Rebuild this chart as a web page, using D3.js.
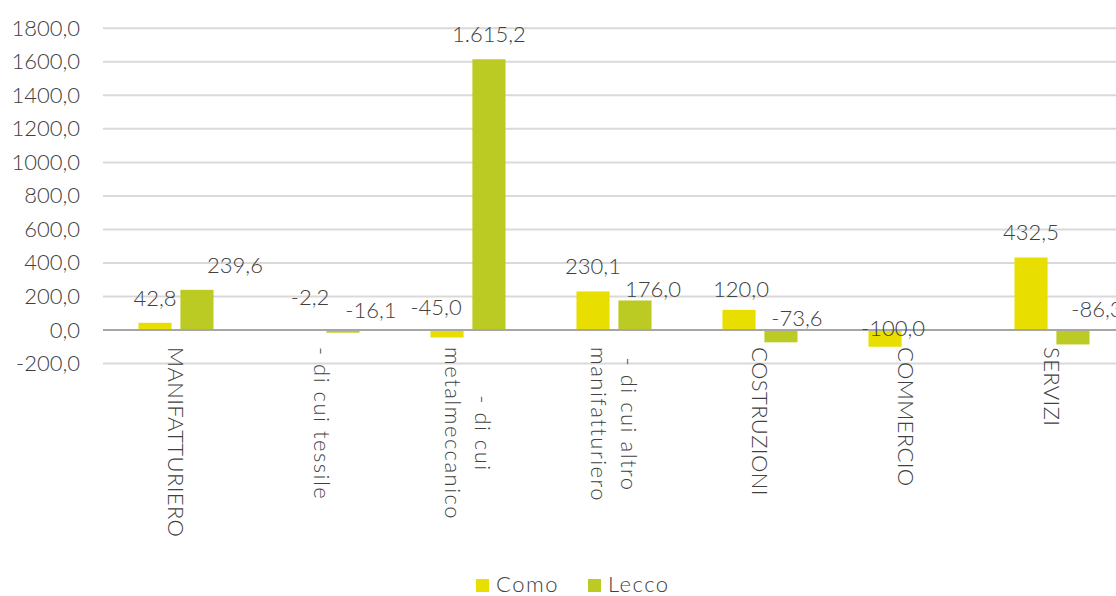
<!DOCTYPE html>
<html>
<head>
<meta charset="utf-8">
<script src="https://cdn.jsdelivr.net/npm/d3@7"></script>
<style>
  body { margin: 0; background: #fff; }
  svg text { font-family: Lato, "Open Sans", sans-serif; font-weight: 300; fill: #404040; }
</style>
</head>
<body>
<div id="chart"></div>
<script>
(function() {
    'use strict';

    // data
    var categories = [
        "MANIFATTURIERO",
        "- di cui tessile",
        "- di cui\nmetalmeccanico",
        "- di cui altro\nmanifatturiero",
        "COSTRUZIONI",
        "COMMERCIO",
        "SERVIZI"
    ];
    var seriesNames = ["Como", "Lecco"];
    var como = [42.8, -2.2, -45.0, 230.1, 120.0, -100.0, 432.5];
    var lecco = [239.6, -16.1, 1615.2, 176.0, -73.6, null, -86.3];
    var yTicks = [-200, 0, 200, 400, 600, 800, 1000, 1200, 1400, 1600, 1800];

    // manual label nudges (like dragged labels in the source), [dx, dy]
    var nudgeComo = [[0, 0], [9, -8], [-11, 2], [0, 0], [2, 4], [8, 23], [0, 0]];
    var nudgeLecco = [[38, 0], [28, 5], [0, 0], [18, 14], [16, 13], [0, 0], [24, 4]];

    var colors = { Como: "#e8df00", Lecco: "#bbcb23" };

    var width = 1116, height = 596;

    var locale = d3.formatLocale({
        decimal: ",", thousands: ".", grouping: [3], currency: ["€", ""], minus: "-"
    });
    var fmtTick = locale.format(".1f");
    var fmtLabel = locale.format(",.1f");

    // wide-ish text like the original font
    function spacing(s) {
        return s === s.toUpperCase() ? "0.4px" : "1.5px";
    }

    var svg = d3.select("#chart").append("svg")
        .attr("width", width)
        .attr("height", height);

    var x = d3.scaleBand()
        .domain(categories)
        .range([103, 1125])
        .paddingInner(0.486)
        .paddingOuter(0.243);

    var xInner = d3.scaleBand()
        .domain(seriesNames)
        .range([0, x.bandwidth()])
        .paddingInner(0.21);

    var y = d3.scaleLinear()
        .domain([-200, 1800])
        .range([363.5, 28.3]);

    // gridlines
    svg.append("g").selectAll("line")
        .data(yTicks.filter(function(t) { return t !== 0; }))
        .enter().append("line")
        .attr("x1", 103).attr("x2", width)
        .attr("y1", function(d) { return y(d); })
        .attr("y2", function(d) { return y(d); })
        .attr("stroke", "#d9d9d9")
        .attr("stroke-width", 2);

    // y axis labels
    var yAxis = d3.axisLeft(y).tickValues(yTicks).tickFormat(fmtTick).tickSize(0).tickPadding(0);
    var gy = svg.append("g").attr("transform", "translate(80,0)").call(yAxis);
    gy.select(".domain").remove();
    gy.selectAll("text")
        .style("font-family", "Lato, sans-serif")
        .style("font-weight", 300)
        .style("font-size", "22px")
        .attr("fill", "#595959");

    // bars
    var rows = seriesNames.map(function(name) {
        var vals = name === "Como" ? como : lecco;
        var nudges = name === "Como" ? nudgeComo : nudgeLecco;
        return categories.map(function(c, i) {
            return { cat: c, series: name, value: vals[i], nudge: nudges[i] };
        }).filter(function(d) { return d.value !== null; });
    });
    var all = rows[0].concat(rows[1]);

    svg.append("g").selectAll("rect")
        .data(all).enter().append("rect")
        .attr("x", function(d) { return x(d.cat) + xInner(d.series); })
        .attr("width", xInner.bandwidth())
        .attr("y", function(d) { return y(Math.max(0, d.value)); })
        .attr("height", function(d) { return Math.abs(y(d.value) - y(0)); })
        .attr("fill", function(d) { return colors[d.series]; });

    // zero line
    svg.append("line")
        .attr("x1", 103).attr("x2", width)
        .attr("y1", y(0)).attr("y2", y(0))
        .attr("stroke", "#a6a6a6")
        .attr("stroke-width", 2);

    // data labels
    svg.append("g").selectAll("text")
        .data(all).enter().append("text")
        .attr("x", function(d) { return x(d.cat) + xInner(d.series) + xInner.bandwidth() / 2 + d.nudge[0]; })
        .attr("y", function(d) { return y(Math.max(0, d.value)) - 17 + d.nudge[1]; })
        .attr("text-anchor", "middle")
        .style("font-size", "22px")
        .text(function(d) { return fmtLabel(d.value); });

    // category labels, rotated
    var lineGap = 30;
    var catG = svg.append("g").selectAll("g")
        .data(categories).enter().append("g")
        .attr("transform", function(d) {
            return "translate(" + (x(d) + x.bandwidth() / 2) + ",347) rotate(90)";
        });
    catG.each(function(d) {
        var g = d3.select(this);
        var lines = d.split("\n");
        var texts = lines.map(function(l, i) {
            return g.append("text")
                .attr("y", (i - (lines.length - 1) / 2) * lineGap)
                .attr("dy", "0.35em")
                .attr("fill", "#595959")
                .style("font-size", "22px")
                .style("letter-spacing", spacing(l))
                .text(l);
        });
        var lens = texts.map(function(t) { return t.node().getComputedTextLength(); });
        var maxLen = d3.max(lens);
        texts.forEach(function(t, i) { t.attr("x", (maxLen - lens[i]) / 2); });
    });

    // legend
    var legend = svg.append("g").attr("transform", "translate(476,579)");
    var legendX = [0, 112];
    seriesNames.forEach(function(name, i) {
        var item = legend.append("g").attr("transform", "translate(" + legendX[i] + ",0)");
        item.append("rect").attr("width", 13).attr("height", 13).attr("fill", colors[name]);
        item.append("text").attr("x", 20).attr("y", 13)
            .attr("fill", "#595959")
            .style("font-size", "22px")
            .style("letter-spacing", "1.5px")
            .text(name);
    });
})();
</script>
</body>
</html>
